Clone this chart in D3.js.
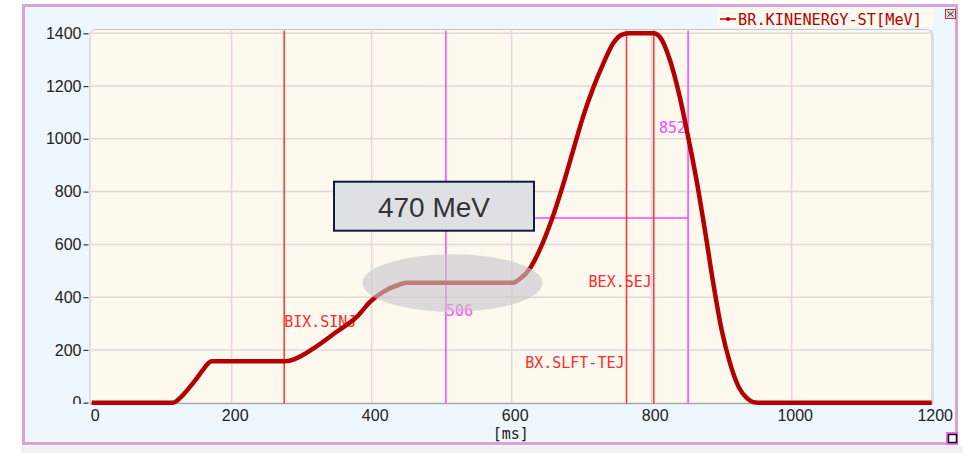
<!DOCTYPE html>
<html>
<head>
<meta charset="utf-8">
<script src="https://cdn.jsdelivr.net/npm/d3@7"></script>
<style>
  html, body { margin: 0; padding: 0; background: #ffffff; }
  svg { display: block; }
</style>
</head>
<body>
<svg id="chart" width="963" height="453"></svg>
<script>
// Beam kinetic energy along the cycle
const timeMs = [0, 116, 122, 130, 145, 160, 166, 171, 276, 290, 300, 317, 350, 379, 398, 417, 440, 450,
  602, 612, 626, 640, 657, 674, 688, 702, 717, 731, 745, 757, 767, 803, 812, 826, 840, 852, 864, 876,
  888, 900, 912, 924, 936, 945, 952, 1200];
const energyMeV = [0, 0, 8, 28, 75, 128, 148, 157, 157, 165, 178, 206, 269, 326, 383, 421, 448, 455,
  455, 470, 509, 579, 692, 831, 958, 1084, 1197, 1286, 1362, 1394, 1400, 1400, 1385, 1299, 1160, 1008,
  844, 654, 452, 275, 149, 61, 17, 2, 0, 0];

const xTicks = [0, 200, 400, 600, 800, 1000, 1200];
const yTicks = [0, 200, 400, 600, 800, 1000, 1200, 1400];

// Timing events
const eventNames = ["BIX.SINJ", "BX.SLFT-TEJ", "BEX.SEJ"];
const eventTimes = [275, 764, 803];
// Cursors
const cursorTimes = [506, 852];
const cursorLevel = 700;

const seriesName = "BR.KINENERGY-ST[MeV]";
const xUnit = "[ms]";
const noteText = "470 MeV";

const svg = d3.select("#chart");
const monoFont = "'DejaVu Sans Mono', 'Liberation Mono', monospace";
const sansFont = "'Liberation Sans', Arial, sans-serif";

const x = d3.scaleLinear().domain([0, 1200]).range([91.7, 931.7]);
const y = d3.scaleLinear().domain([0, 1400]).range([402.7, 33.3]);

// Window frame
svg.append("rect").attr("x", 21).attr("y", 446).attr("width", 942).attr("height", 7).attr("fill", "#f0f0f0");
svg.append("rect")
  .attr("x", 23.5).attr("y", 5.5).attr("width", 933).attr("height", 438)
  .attr("fill", "#eef6fe").attr("stroke", "#d9a3d8").attr("stroke-width", 3);

// Plot area with rounded top corners
const pL = 90, pR = 933, pT = 29.5, pB = 403.5, r = 6;
svg.append("path")
  .attr("d", `M${pL},${pB} L${pL},${pT + r} Q${pL},${pT} ${pL + r},${pT} L${pR - r - 2},${pT} Q${pR},${pT} ${pR},${pT + r + 2} L${pR},${pB} Z`)
  .attr("fill", "#fdf9ef").attr("stroke", "#c8c4cc").attr("stroke-width", 1);

// Grid
const grid = svg.append("g").attr("stroke", "#e6d6dc").attr("stroke-width", 1.5);
grid.selectAll(".gx").data(xTicks.filter(d => d > 0)).join("line")
  .attr("x1", d => x(d)).attr("x2", d => x(d)).attr("y1", pT + 1).attr("y2", pB - 1);
grid.selectAll(".gy").data(yTicks.filter(d => d > 0)).join("line")
  .attr("x1", pL + 1).attr("x2", pR - 1).attr("y1", d => y(d)).attr("y2", d => y(d));

// Y axis (labels clipped at the bottom of the plot)
svg.append("clipPath").attr("id", "yclip").append("rect")
  .attr("x", 0).attr("y", 0).attr("width", 90).attr("height", 404);
const yAxis = svg.append("g")
  .attr("clip-path", "url(#yclip)")
  .append("g")
  .attr("transform", "translate(88.5,0)")
  .call(d3.axisLeft(y).tickValues(yTicks).tickSize(5).tickPadding(2).tickFormat(d3.format("d")));
yAxis.select(".domain").remove();
yAxis.selectAll(".tick line").attr("stroke", "#333").attr("stroke-width", 1.2);
yAxis.selectAll(".tick text").attr("font-family", sansFont).attr("font-size", 16).attr("fill", "#222");

// X axis
const xAxis = svg.append("g")
  .attr("transform", `translate(0,${pB})`)
  .call(d3.axisBottom(x).tickValues(xTicks).tickSize(0).tickPadding(6).tickFormat(d3.format("d")));
xAxis.select(".domain").attr("stroke", "#a9a7b2").attr("stroke-width", 1.5)
  .attr("d", `M${pL},0H${pR}`);
xAxis.selectAll(".tick text").attr("font-family", sansFont).attr("font-size", 16).attr("fill", "#222").attr("dx", 3);

svg.append("text").attr("x", x(600) - 1).attr("y", 439)
  .attr("text-anchor", "middle").attr("font-family", monoFont).attr("font-size", 15).attr("fill", "#222")
  .text(xUnit);

// Horizontal cursor level
svg.append("line")
  .attr("x1", x(cursorTimes[0])).attr("x2", x(cursorTimes[1]))
  .attr("y1", y(cursorLevel)).attr("y2", y(cursorLevel))
  .attr("stroke", "#ff40ff").attr("stroke-width", 1.5);

// Event lines
svg.selectAll(".ev").data(eventTimes).join("line")
  .attr("x1", d => x(d)).attr("x2", d => x(d)).attr("y1", pT + 1).attr("y2", pB)
  .attr("stroke", "#ff3333").attr("stroke-width", 1.5);
// Cursor lines
svg.selectAll(".cur").data(cursorTimes).join("line")
  .attr("x1", d => x(d)).attr("x2", d => x(d)).attr("y1", pT + 1).attr("y2", pB)
  .attr("stroke", "#ff44ff").attr("stroke-width", 1.5);

// Event labels
const evLabelY = [327, 368, 287];
const evAnchor = ["start", "end", "end"];
const evDx = [0, -2, -2];
svg.selectAll(".evl").data(eventNames).join("text")
  .attr("x", (d, i) => x(eventTimes[i]) + evDx[i]).attr("y", (d, i) => evLabelY[i])
  .attr("text-anchor", (d, i) => evAnchor[i])
  .attr("font-family", monoFont).attr("font-size", 15).attr("fill", "#ff2a2a")
  .text(d => d);

// Cursor labels
const curLabelY = [316, 132.5];
const curAnchor = ["start", "end"];
svg.selectAll(".curl").data(cursorTimes).join("text")
  .attr("x", (d, i) => x(d) + (i === 0 ? 0 : -2)).attr("y", (d, i) => curLabelY[i])
  .attr("text-anchor", (d, i) => curAnchor[i])
  .attr("font-family", monoFont).attr("font-size", 15).attr("fill", "#ff44ff")
  .text(d => d);

// Energy curve
const line = d3.line().x((d, i) => x(timeMs[i])).y(d => y(d)).curve(d3.curveMonotoneX);
svg.append("path").datum(energyMeV)
  .attr("d", line)
  .attr("fill", "none").attr("stroke", "#b30000").attr("stroke-width", 4.5)
  .attr("stroke-linejoin", "round");

// Highlight ellipse over the flat top
svg.append("ellipse")
  .attr("cx", 452.5).attr("cy", 283).attr("rx", 90).attr("ry", 28.7)
  .attr("fill", "#c6c6ca").attr("fill-opacity", 0.62);

// Note box
svg.append("rect")
  .attr("x", 334).attr("y", 181.7).attr("width", 200).attr("height", 49)
  .attr("fill", "#dfe0e3").attr("stroke", "#0f1c3f").attr("stroke-width", 2);
svg.append("text").attr("x", 434).attr("y", 216.5)
  .attr("text-anchor", "middle").attr("font-family", sansFont).attr("font-size", 28).attr("fill", "#333")
  .text(noteText);

// Legend
svg.append("rect").attr("x", 717).attr("y", 9).attr("width", 216).attr("height", 18).attr("fill", "#fdf9ef");
svg.append("line").attr("x1", 720).attr("x2", 736).attr("y1", 19).attr("y2", 19)
  .attr("stroke", "#b30000").attr("stroke-width", 1.5);
svg.append("circle").attr("cx", 728).attr("cy", 19).attr("r", 2).attr("fill", "#b30000");
svg.append("text").attr("x", 738).attr("y", 25)
  .attr("font-family", monoFont).attr("font-size", 15).attr("fill", "#b30000")
  .attr("textLength", 184).attr("lengthAdjust", "spacingAndGlyphs")
  .text(seriesName);

// Window buttons
svg.append("rect").attr("x", 945.5).attr("y", 9.5).attr("width", 10).attr("height", 9)
  .attr("fill", "#dcdcdc").attr("stroke", "#b03a3a").attr("stroke-width", 1);
svg.append("path").attr("d", "M947.5,11.5L953.5,16.5M953.5,11.5L947.5,16.5")
  .attr("stroke", "#333").attr("stroke-width", 1);
svg.append("rect").attr("x", 946).attr("y", 432).attr("width", 12).attr("height", 13).attr("fill", "#f06af0");
svg.append("rect").attr("x", 948.5).attr("y", 434.5).attr("width", 8).attr("height", 8)
  .attr("fill", "#ffffff").attr("stroke", "#111").attr("stroke-width", 1.5);
</script>
</body>
</html>
